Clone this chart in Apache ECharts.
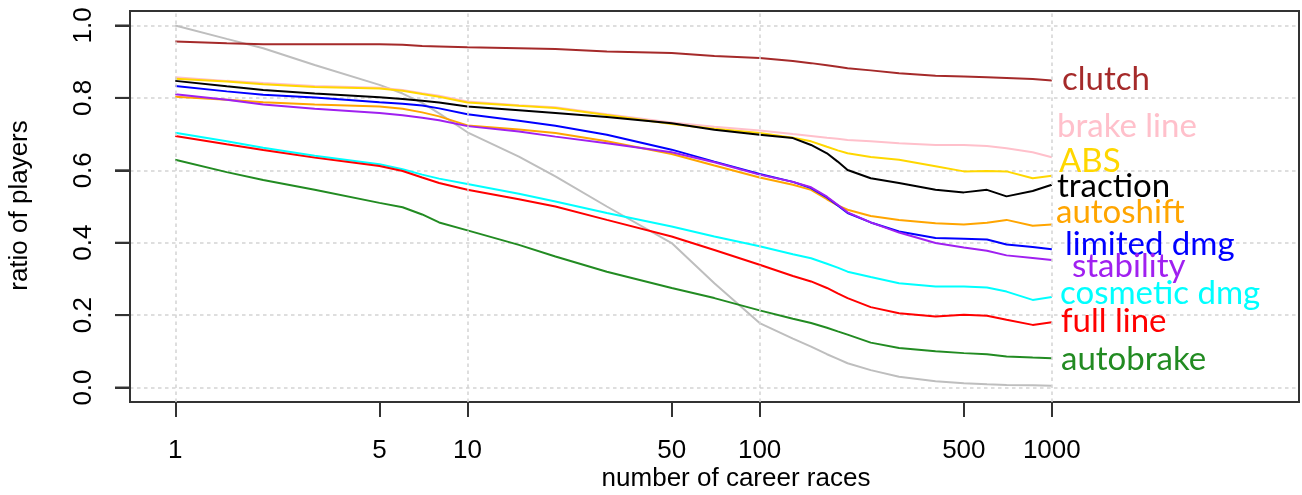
<!DOCTYPE html>
<html><head><meta charset="utf-8">
<script src="https://cdn.jsdelivr.net/npm/echarts@6/dist/echarts.min.js"></script>
<style>html,body{margin:0;padding:0;background:#fff}#c{width:1302px;height:495px;background:#fff}</style>
</head><body><div id="c"></div>
<script>
// x values (number of career races)
const races = [1,1.5,2,3,5,6,7,8,10,15,20,30,50,70,100,130,150,170,185,200,240,300,400,500,600,700,860,1000];
// series values (ratio of players)
const allPlayers  = [1.0,0.963,0.937,0.891,0.836,0.812,0.786,0.757,0.705,0.638,0.583,0.500,0.399,0.288,0.178,0.135,0.113,0.092,0.079,0.067,0.048,0.030,0.017,0.012,0.009,0.007,0.006,0.005];
const clutch      = [0.956,0.951,0.948,0.948,0.948,0.947,0.943,0.942,0.940,0.937,0.935,0.928,0.924,0.916,0.910,0.902,0.896,0.890,0.886,0.882,0.876,0.868,0.861,0.859,0.857,0.855,0.852,0.848];
const brakeLine   = [0.857,0.847,0.841,0.833,0.828,0.822,0.813,0.806,0.790,0.780,0.774,0.755,0.732,0.720,0.710,0.700,0.695,0.690,0.687,0.684,0.680,0.675,0.670,0.670,0.667,0.661,0.650,0.636];
const abs         = [0.853,0.845,0.838,0.830,0.826,0.820,0.811,0.803,0.787,0.778,0.772,0.753,0.728,0.715,0.703,0.690,0.680,0.665,0.655,0.647,0.637,0.629,0.611,0.597,0.598,0.597,0.578,0.585];
const traction    = [0.847,0.832,0.822,0.812,0.802,0.797,0.792,0.787,0.776,0.766,0.758,0.747,0.730,0.712,0.698,0.689,0.670,0.647,0.624,0.601,0.578,0.565,0.546,0.539,0.546,0.528,0.543,0.560];
const autoshift   = [0.803,0.795,0.788,0.782,0.776,0.770,0.760,0.749,0.724,0.713,0.703,0.680,0.645,0.613,0.580,0.560,0.546,0.520,0.503,0.491,0.474,0.463,0.454,0.450,0.455,0.463,0.447,0.450];
const limitedDmg  = [0.833,0.818,0.809,0.801,0.788,0.784,0.779,0.771,0.755,0.737,0.723,0.698,0.657,0.624,0.590,0.568,0.551,0.525,0.503,0.482,0.456,0.431,0.413,0.411,0.409,0.395,0.388,0.382];
const stability   = [0.810,0.795,0.782,0.770,0.758,0.752,0.745,0.738,0.722,0.707,0.693,0.675,0.650,0.622,0.588,0.568,0.553,0.527,0.505,0.484,0.456,0.428,0.399,0.387,0.378,0.365,0.358,0.352];
const cosmeticDmg = [0.704,0.680,0.662,0.640,0.617,0.603,0.588,0.577,0.562,0.535,0.514,0.482,0.445,0.417,0.390,0.368,0.357,0.342,0.331,0.320,0.305,0.288,0.279,0.279,0.276,0.265,0.242,0.250];
const fullLine    = [0.695,0.672,0.656,0.635,0.612,0.598,0.580,0.565,0.546,0.520,0.500,0.463,0.417,0.380,0.339,0.308,0.293,0.275,0.260,0.247,0.222,0.205,0.196,0.201,0.198,0.187,0.173,0.180];
const autobrake   = [0.629,0.595,0.573,0.546,0.510,0.498,0.478,0.456,0.434,0.394,0.362,0.320,0.275,0.247,0.213,0.190,0.178,0.165,0.155,0.146,0.124,0.109,0.100,0.095,0.092,0.086,0.083,0.081];
// tick labels
const xTicks = [1,5,10,50,100,500,1000];
const xGridLines = [1,10,100,1000];
const yTicks = [0,0.2,0.4,0.6,0.8,1.0];

const seriesDefs = [
  {name:'all', values: allPlayers, color:'#BEBEBE', label:null},
  {name:'clutch', values: clutch, color:'#A52A2A', label:{x:1062, y:79}},
  {name:'brake line', values: brakeLine, color:'#FFC0CB', label:{x:1057, y:126}},
  {name:'ABS', values: abs, color:'#FFD700', label:{x:1059, y:161}},
  {name:'traction', values: traction, color:'#000000', label:{x:1057, y:186}},
  {name:'autoshift', values: autoshift, color:'#FFA500', label:{x:1056, y:212}},
  {name:'limited dmg', values: limitedDmg, color:'#0000FF', label:{x:1065, y:244.5}},
  {name:'stability', values: stability, color:'#A020F0', label:{x:1072, y:266}},
  {name:'cosmetic dmg', values: cosmeticDmg, color:'#00FFFF', label:{x:1060, y:293}},
  {name:'full line', values: fullLine, color:'#FF0000', label:{x:1061, y:321}},
  {name:'autobrake', values: autobrake, color:'#228B22', label:{x:1061, y:359}}
];

const chart = echarts.init(document.getElementById('c'), null, {renderer:'canvas'});
const axisFont = 'Liberation Sans';
const xMin = 0.70, xMax = 7015;
const gridLeft = 130, gridTop = 11, gridBottom = 93, tickLen = 15;
const gridLineStyle = {color:'#D3D3D3', width:1.5, type:[3.5,3.5]};

const graphics = [
  {type:'text', x:20.3, y:205.5, rotation:Math.PI/2,
   style:{text:'ratio of players', fontFamily:axisFont, fontSize:26, fill:'#000', align:'center', verticalAlign:'middle'}},
  {type:'text', x:736, y:479,
   style:{text:'number of career races', fontFamily:axisFont, fontSize:26, fill:'#000', align:'center', verticalAlign:'middle'}}
];
seriesDefs.forEach(s => {
  if (s.label) graphics.push({type:'text', x:s.label.x, y:s.label.y,
    style:{text:s.name, fontFamily:'Lato', fontSize:33, fill:s.color, align:'left', verticalAlign:'middle'}});
});

chart.setOption({
  animation:false,
  grid:{left:gridLeft, top:gridTop, right:3, bottom:gridBottom, show:true, borderColor:'#333', borderWidth:2},
  xAxis:{type:'log', logBase:10, min:xMin, max:xMax,
     axisLine:{show:true, onZero:false, lineStyle:{color:'#333', width:2}},
     axisTick:{show:true, length:tickLen, inside:false, customValues:xTicks, lineStyle:{color:'#333', width:2}},
     axisLabel:{show:true, customValues:xTicks, margin:36, fontFamily:axisFont, fontSize:26, color:'#000',
       formatter: v => String(Math.round(v))},
     splitLine:{show:false}},
  yAxis:{type:'value', min:-0.04, max:1.04,
     axisLine:{show:true, onZero:false, lineStyle:{color:'#333', width:2}},
     axisTick:{show:true, length:tickLen, inside:false, customValues:yTicks, lineStyle:{color:'#333', width:2}},
     axisLabel:{show:true, customValues:yTicks, rotate:90, margin:33, fontFamily:axisFont, fontSize:26, color:'#000',
       formatter: v => v.toFixed(1)},
     splitLine:{show:true, lineStyle:gridLineStyle}},
  series: seriesDefs.map((s, idx) => {
    const ser = {
      name:s.name, type:'line', showSymbol:false, symbol:'none',
      data: races.map((r,i) => [r, s.values[i]]),
      lineStyle:{color:s.color, width:2}, itemStyle:{color:s.color}
    };
    if (idx === 0) {
      // vertical dotted grid lines at the decades, through the x scale
      ser.markLine = {silent:true, symbol:['none','none'], label:{show:false},
        lineStyle:gridLineStyle, emphasis:{disabled:true},
        data: xGridLines.map(v => ({xAxis:v}))};
    }
    return ser;
  })
});

// y-axis tick marks placed through the axis scale
const tickMarks = [];
yTicks.forEach(v => {
  let py;
  try { py = chart.convertToPixel({yAxisIndex:0}, v); } catch (e) { py = NaN; }
  if (typeof py !== 'number' || !isFinite(py)) {
    const h = 495 - gridTop - gridBottom;
    py = gridTop + (1.04 - v) / 1.08 * h;
  }
  tickMarks.push({type:'rect', z:100,
    shape:{x:gridLeft - tickLen, y:py - 1, width:tickLen, height:2},
    style:{fill:'#333', stroke:null}});
});
chart.setOption({graphic: graphics.concat(tickMarks)});
</script></body></html>
